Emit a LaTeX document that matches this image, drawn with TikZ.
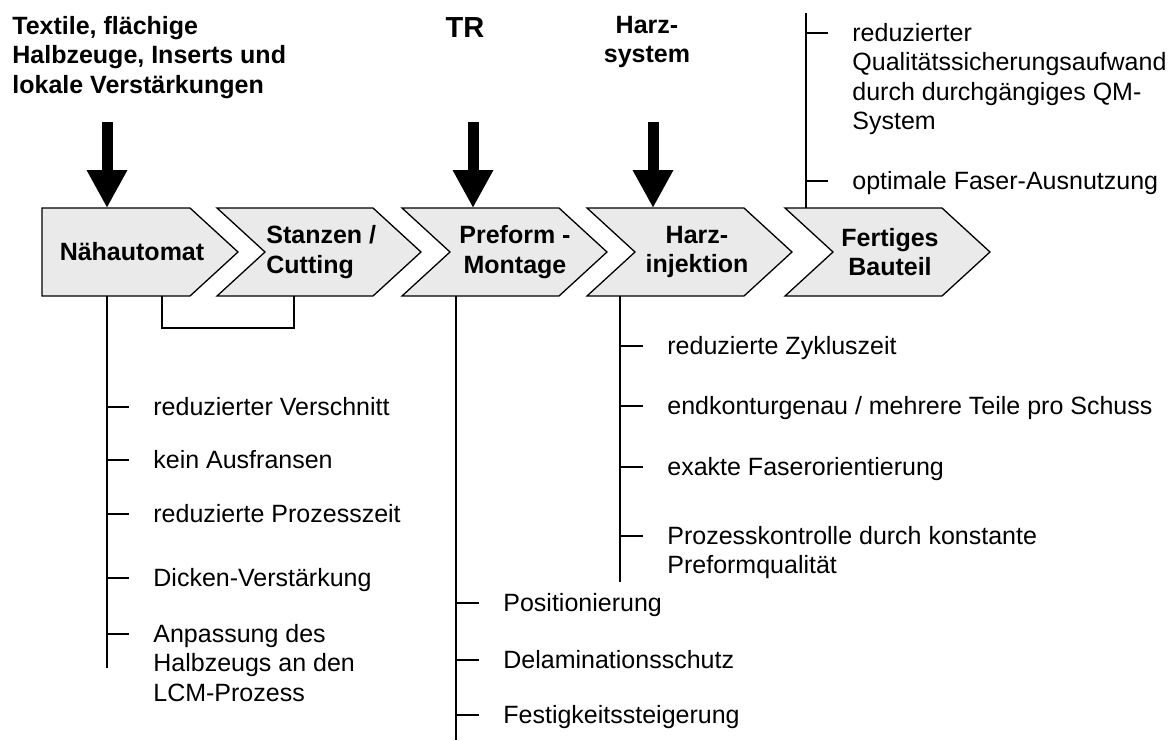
\documentclass[tikz,border=0pt]{standalone}
\usepackage{fontspec}
\setmainfont{Liberation Sans}
\usetikzlibrary{arrows.meta}
\definecolor{chevgray}{RGB}{234,234,234}
\tikzset{
  chev/.style={draw, fill=chevgray, line width=0.65pt},
  lbl/.style={font=\fontsize{12.5}{14.75}\selectfont\bfseries, inner sep=0pt, align=center},
  item/.style={font=\fontsize{12.5}{14.75}\selectfont, inner sep=0pt, align=left, anchor=north west},
  stem/.style={line width=0.65pt},
  bigarrow/.style={line width=5.5pt, -{Triangle[length=19pt,width=19pt]}}
}
\begin{document}
\begin{tikzpicture}[x=0.5pt,y=-0.5pt]
\useasboundingbox (0,0) rectangle (1174,740);

% inputs
\node[lbl, align=left, anchor=north west] (textile) at (12,13.4) {\strut Textile, flächige\\Halbzeuge, Inserts und\\lokale Verstärkungen};
\node[lbl, font=\fontsize{14.5}{17}\selectfont\bfseries, anchor=base] (tr) at (465,37) {TR};
\node[lbl, anchor=north] (harzsys) at (647,12.4) {\strut Harz-\\system};

% process chain
\draw[chev] (42,208) -- (190,208) -- ++(48,44) -- ++(-48,44) -- (42,296) -- cycle;
\foreach \l/\r in {217/373, 402/559, 587/744, 785/942}
  \draw[chev] (\l,208) -- (\r,208) -- ++(48,44) -- ++(-48,44) -- (\l,296) -- ++(48,-44) -- cycle;
\node[lbl] (naeh) at (132,252) {Nähautomat};
\node[lbl, align=left, anchor=west] (stanz) at (266,252) {Stanzen /\\Cutting};
\node[lbl] (pref) at (515,252) {Preform -\\Montage};
\node[lbl] (harzinj) at (697,252) {Harz-\\injektion};
\node[lbl] (fertig) at (890,252) {Fertiges\\Bauteil};

\coordinate (in1) at (107,122);
\coordinate (in2) at (473,122);
\coordinate (in3) at (653,122);
\coordinate (naeh-n) at (107,208);
\coordinate (pref-n) at (473,208);
\coordinate (harz-n) at (653,208);
\draw[bigarrow] (in1) -- (naeh-n);
\draw[bigarrow] (in2) -- (pref-n);
\draw[bigarrow] (in3) -- (harz-n);

% stems
\coordinate (naeh-s) at (107,296);
\coordinate (naeh-e) at (107,668);
\coordinate (br1) at (162,296);
\coordinate (br2) at (294,296);
\coordinate (pref-s) at (456,296);
\coordinate (pref-e) at (456,740);
\coordinate (harz-s) at (620,296);
\coordinate (harz-e) at (620,582);
\coordinate (fert-n) at (806,208);
\coordinate (fert-e) at (806,13);
\draw[stem] (naeh-s) -- (naeh-e);
\draw[stem] (br1) -- ++(0,32) -| (br2);
\draw[stem] (pref-s) -- (pref-e);
\draw[stem] (harz-s) -- (harz-e);
\draw[stem] (fert-n) -- (fert-e);

% advantages
\foreach \y/\t [count=\i] in {407/reduzierter Verschnitt, 460/kein Ausfransen, 514/reduzierte Prozesszeit, 578/Dicken-Verstärkung, 634/{Anpassung des\\Halbzeugs an den\\LCM-Prozess}} {
  \node[item] (a\i) at (153,\y-12.6) {\strut\t};
  \draw[stem] ([shift={(-46,12.6)}]a\i.north west) -- ++(22,0);
}
\foreach \y/\t [count=\i] in {603/Positionierung, 660/Delaminationsschutz, 715/Festigkeitssteigerung} {
  \node[item] (b\i) at (503,\y-12.6) {\strut\t};
  \draw[stem] ([shift={(-46,12.6)}]b\i.north west) -- ++(22,0);
}
\foreach \y/\t [count=\i] in {346/reduzierte Zykluszeit, 406/{endkonturgenau / mehrere Teile pro Schuss}, 467/exakte Faserorientierung, 536/{Prozesskontrolle durch konstante\\Preformqualität}} {
  \node[item] (c\i) at (667,\y-12.6) {\strut\t};
  \draw[stem] ([shift={(-46,12.6)}]c\i.north west) -- ++(22,0);
}
\foreach \y/\t [count=\i] in {33/{reduzierter\\Qualitätssicherungsaufwand\\durch durchgängiges QM-\\System}, 181/optimale Faser-Ausnutzung} {
  \node[item] (d\i) at (852,\y-12.6) {\strut\t};
  \draw[stem] ([shift={(-46,12.6)}]d\i.north west) -- ++(22,0);
}
\end{tikzpicture}
\end{document}
